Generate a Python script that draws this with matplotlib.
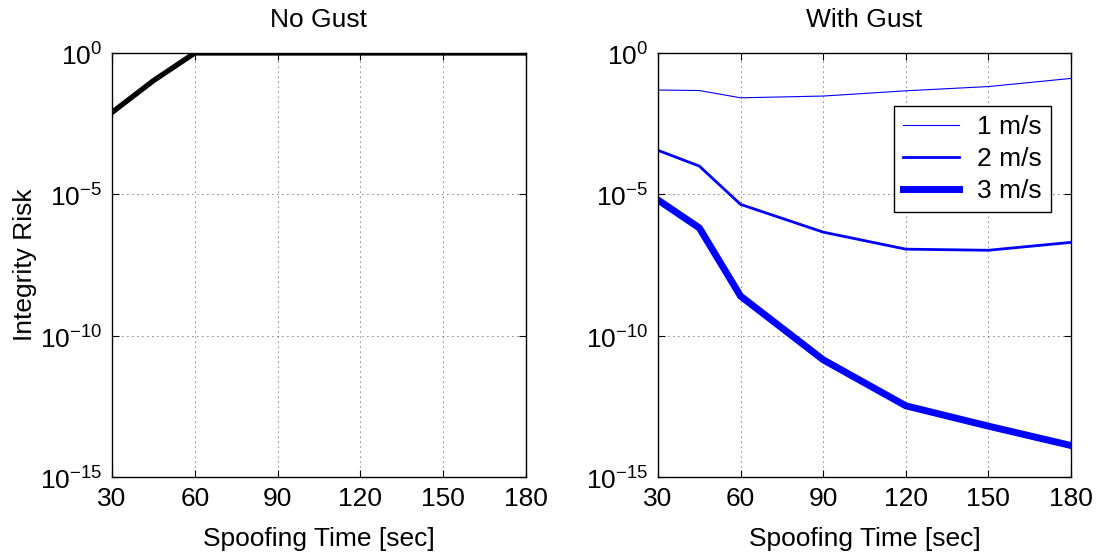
import numpy as np
import matplotlib
matplotlib.use("Agg")
import matplotlib.pyplot as plt
from matplotlib.ticker import NullLocator, FixedLocator

plt.rcParams['font.family'] = ['Liberation Sans', 'DejaVu Sans']
plt.rcParams['mathtext.fontset'] = 'custom'
plt.rcParams['mathtext.rm'] = 'Liberation Sans'

# spoofing time [sec]
spoof_time = [30, 45, 60, 90, 120, 150, 180]

# integrity risk, no gust
risk_no_gust = [7.9e-3, 0.105, 1.0, 1.0, 1.0, 1.0, 1.0]

# integrity risk with gust
gust_labels = ['1 m/s', '2 m/s', '3 m/s']
risk_gust_1 = [0.049, 0.047, 0.026, 0.030, 0.046, 0.065, 0.126]
risk_gust_2 = [3.6e-4, 1.0e-4, 4.4e-6, 4.6e-7, 1.15e-7, 1.05e-7, 2.0e-7]
risk_gust_3 = [6.3e-6, 6.5e-7, 2.5e-9, 1.4e-11, 3.3e-13, 6.3e-14, 1.3e-14]

x_ticks = [30, 60, 90, 120, 150, 180]
y_ticks = [1e-15, 1e-10, 1e-5, 1e0]

FS = 19

fig = plt.figure(figsize=(10.97, 5.53), dpi=100)
ax1 = fig.add_axes([112 / 1097, 1 - 477 / 553, 414 / 1097, 424 / 553])
ax2 = fig.add_axes([658 / 1097, 1 - 477 / 553, 413 / 1097, 424 / 553])


def style_axes(ax, title):
    ax.set_yscale('log')
    ax.set_xlim(30, 180)
    ax.set_ylim(1e-15, 1e0)
    ax.xaxis.set_major_locator(FixedLocator(x_ticks))
    ax.yaxis.set_major_locator(FixedLocator(y_ticks))
    ax.yaxis.set_minor_locator(NullLocator())
    ax.set_yticklabels([r'$10^{-15}$', r'$10^{-10}$', r'$10^{-5}$', r'$10^{0}$'])
    ax.tick_params(direction='in', labelsize=FS, length=5, width=0.8,
                   top=True, right=True, pad=7)
    ax.grid(True, which='major', linestyle=(0, (1, 5)), color='black', linewidth=0.6)
    for s in ax.spines.values():
        s.set_linewidth(1.0)
    ax.set_xlabel('Spoofing Time [sec]', fontsize=FS, labelpad=12)
    ax.set_title(title, fontsize=FS, pad=19)


ax1.plot(spoof_time, risk_no_gust, color='black', linewidth=3.8, solid_joinstyle='miter')
style_axes(ax1, 'No Gust')
ax1.set_ylabel('Integrity Risk', fontsize=FS, labelpad=2)

ax2.plot(spoof_time, risk_gust_1, color='blue', linewidth=0.8, label=gust_labels[0])
ax2.plot(spoof_time, risk_gust_2, color='blue', linewidth=2.0, label=gust_labels[1])
ax2.plot(spoof_time, risk_gust_3, color='blue', linewidth=5.0, label=gust_labels[2])
style_axes(ax2, 'With Gust')

leg = ax2.legend(loc='upper right', bbox_to_anchor=(0.952, 0.875), fontsize=FS,
                 fancybox=False, edgecolor='black', framealpha=1,
                 handlelength=2.1, handletextpad=0.7, labelspacing=0.3,
                 borderpad=0.35, borderaxespad=0)
leg.get_frame().set_linewidth(1.0)

fig.savefig('out.png', dpi=100)
